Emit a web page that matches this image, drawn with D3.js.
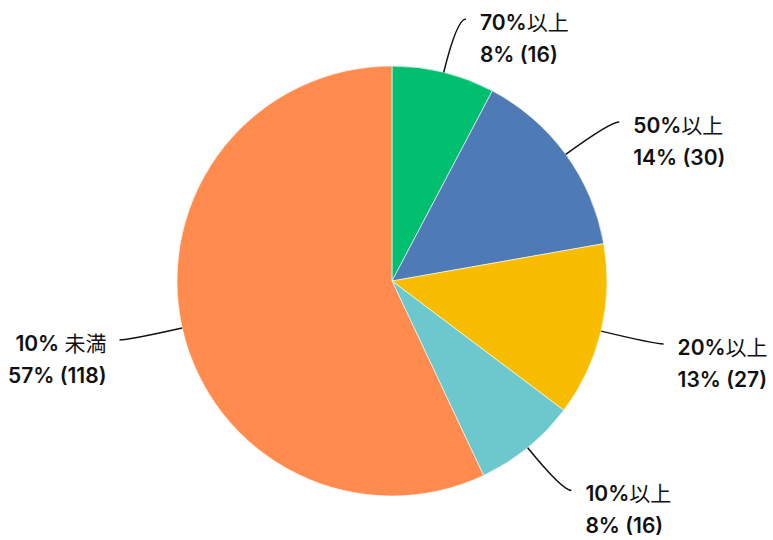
<!DOCTYPE html>
<html>
<head>
<meta charset="utf-8">
<script src="https://cdn.jsdelivr.net/npm/d3@7"></script>
<style>
  body { margin: 0; background: #fff; }
  text { font-family: Inter, "Noto Sans CJK JP", sans-serif; font-weight: 600; fill: #111; }
  tspan.cjk { font-family: "Noto Sans CJK JP", sans-serif; font-weight: 400; }
</style>
</head>
<body>
<svg id="chart" width="773" height="540"></svg>
<script>
// data, clockwise from 12 o'clock
var categories = ["70%以上", "50%以上", "20%以上", "10%以上", "10% 未満"];
var counts = [16, 30, 27, 16, 118];
var colors = ["#00bf6f", "#4e7ab5", "#f8bd00", "#6cc8cc", "#ff8b4f"];

var data = categories.map(function(c, i){
  return {name: c, value: counts[i], color: colors[i]};
});
var total = d3.sum(counts);

var svg = d3.select("#chart");
var cx = 392, cy = 281, radius = 215;

var pie = d3.pie()
            .value(function(d){ return d.value; })
            .sort(null);
var arc = d3.arc()
            .innerRadius(0)
            .outerRadius(radius);

var g = svg.append("g")
           .attr("transform", "translate(" + cx + "," + cy + ")");

var arcs = pie(data);

g.selectAll("path.slice")
  .data(arcs)
  .enter()
  .append("path")
  .attr("class", "slice")
  .attr("d", arc)
  .attr("fill", function(d){ return d.data.color; })
  .attr("stroke", "#fff")
  .attr("stroke-width", 0.6);

//leader lines: out from the arc along the middle angle, then a short horizontal bit
function leader(d){
  var a = (d.startAngle + d.endAngle) / 2;
  var s = Math.sin(a), c = -Math.cos(a);
  var p0 = [s * radius, c * radius];
  var p1 = [s * (radius + 55), c * (radius + 55)];
  var p2 = [p1[0] + (s >= 0 ? 9 : -9), p1[1]];
  return {a: p0, b: p1, c: p2, right: s >= 0};
}

g.selectAll("path.leader")
  .data(arcs)
  .enter()
  .append("path")
  .attr("class", "leader")
  .attr("fill", "none")
  .attr("stroke", "#111")
  .attr("stroke-width", 1.5)
  .attr("d", function(d){
    var l = leader(d);
    return "M" + l.a + "Q" + l.b + " " + l.c;
  });

var labels = g.selectAll("text.label")
  .data(arcs)
  .enter()
  .append("text")
  .attr("class", "label")
  .attr("font-size", 21)
  .attr("text-anchor", function(d){ return leader(d).right ? "start" : "end"; })
  .attr("transform", function(d){
    var l = leader(d);
    return "translate(" + (l.c[0] + (l.right ? 14 : -13)) + "," + (l.c[1] + 11) + ")";
  });

// first line: latin part bold, CJK part regular
var line1 = labels.append("tspan")
  .attr("x", 0)
  .attr("y", 0);
line1.each(function(d){
  var parts = d.data.name.match(/[^\u3000-\u9fff]+|[\u3000-\u9fff]+/g);
  var t = d3.select(this);
  parts.forEach(function(p){
    t.append("tspan")
     .attr("class", /[\u3000-\u9fff]/.test(p) ? "cjk" : null)
     .text(p);
  });
});

labels.append("tspan")
  .attr("x", 0)
  .attr("y", 32)
  .text(function(d){
    return Math.round(d.data.value / total * 100) + "% (" + d.data.value + ")";
  });
</script>
</body>
</html>
